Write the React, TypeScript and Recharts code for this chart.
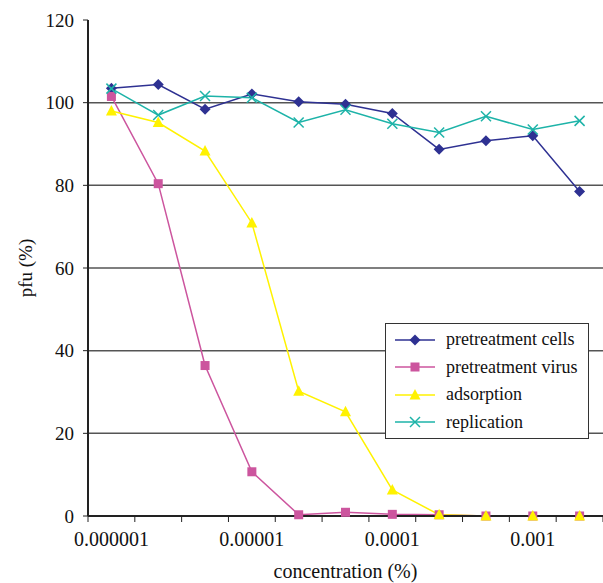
import React from "react";
import { LineChart, Line, XAxis, YAxis, ReferenceLine, Legend, Label } from "recharts";

// concentration categories, only every third one is labelled on the axis
const categories = ["0.000001", "", "", "0.00001", "", "", "0.0001", "", "", "0.001", ""];
const pretreatmentCells = [103.5, 104.4, 98.4, 102.1, 100.2, 99.6, 97.4, 88.7, 90.8, 92.0, 78.5];
const pretreatmentVirus = [101.5, 80.4, 36.4, 10.7, 0.3, 0.9, 0.4, 0.3, 0, 0, 0];
const adsorption = [98.0, 95.2, 88.3, 70.9, 30.2, 25.2, 6.3, 0.3, 0, 0, 0];
const replication = [103.4, 97.0, 101.6, 101.2, 95.2, 98.3, 94.9, 92.8, 96.7, 93.5, 95.6];
const yTicks = [0, 20, 40, 60, 80, 100, 120];
const gridValues = [20, 40, 60, 80, 100];

const W = 603;
const H = 583;
const Y_AXIS_W = 88;
const CAT_W = (W - Y_AXIS_W) / categories.length;
const FONT = "Liberation Serif, Times New Roman, Tinos, DejaVu Serif, serif";

type Shape = "diamond" | "square" | "triangle" | "cross";

const SERIES: { key: string; name: string; color: string; shape: Shape; values: number[] }[] = [
  { key: "cells", name: "pretreatment cells", color: "#2E3192", shape: "diamond", values: pretreatmentCells },
  { key: "virus", name: "pretreatment virus", color: "#CC559E", shape: "square", values: pretreatmentVirus },
  { key: "adsorption", name: "adsorption", color: "#FFF200", shape: "triangle", values: adsorption },
  { key: "replication", name: "replication", color: "#1DB3A8", shape: "cross", values: replication },
];

const data = categories.map((label, i) => {
  const row: Record<string, number | string> = { pos: i + 0.5, label };
  SERIES.forEach((s) => {
    row[s.key] = s.values[i];
  });
  return row;
});

const Marker = ({ shape, cx, cy, color }: { shape: Shape; cx: number; cy: number; color: string }) => {
  if (shape === "diamond")
    return <polygon points={`${cx},${cy - 5.5} ${cx + 5.5},${cy} ${cx},${cy + 5.5} ${cx - 5.5},${cy}`} fill={color} />;
  if (shape === "square") return <rect x={cx - 4.5} y={cy - 4.5} width={9} height={9} fill={color} />;
  if (shape === "triangle")
    return <polygon points={`${cx},${cy - 6} ${cx + 5.5},${cy + 4.5} ${cx - 5.5},${cy + 4.5}`} fill={color} />;
  return (
    <g stroke={color} strokeWidth={1.5}>
      <line x1={cx - 5} y1={cy - 5} x2={cx + 5} y2={cy + 5} />
      <line x1={cx - 5} y1={cy + 5} x2={cx + 5} y2={cy - 5} />
    </g>
  );
};

const renderXTick = (props: any) => {
  const { x, y, payload } = props;
  const label = categories[payload.value];
  if (!label) return <g />;
  return (
    <text x={x + CAT_W / 2} y={y + 22} textAnchor="middle" fontSize={20} fontFamily={FONT} fill="#111">
      {label}
    </text>
  );
};

const renderLegend = () => (
  <div
    style={{
      border: "1px solid #333",
      background: "#fff",
      padding: "2px 0",
      fontFamily: FONT,
      fontSize: 18,
      color: "#111",
    }}
  >
    {SERIES.map((s) => (
      <div key={s.key} style={{ display: "flex", alignItems: "center", height: 27.5 }}>
        <svg width={50} height={16} style={{ flex: "none" }}>
          <line x1={9} y1={8} x2={49} y2={8} stroke={s.color} strokeWidth={1.5} />
          <Marker shape={s.shape} cx={29} cy={8} color={s.color} />
        </svg>
        <span style={{ marginLeft: 10 }}>{s.name}</span>
      </div>
    ))}
  </div>
);

export default function App() {
  return (
    <div style={{ position: "absolute", left: 0, top: 0, width: W, height: H, background: "#fff" }}>
      <LineChart width={W} height={H} data={data} margin={{ top: 20, right: 0, bottom: 0, left: 0 }}>
        <XAxis
          type="number"
          dataKey="pos"
          domain={[0, categories.length]}
          ticks={categories.map((_, i) => i).concat(categories.length)}
          interval={0}
          tickSize={6}
          tickLine={{ stroke: "#222" }}
          axisLine={{ stroke: "#222", strokeWidth: 2 }}
          tick={renderXTick}
          height={67}
        >
          <Label
            value="concentration (%)"
            position="insideBottom"
            offset={5}
            style={{ fontSize: 20, fontFamily: FONT, fill: "#111" }}
          />
        </XAxis>
        <YAxis
          type="number"
          domain={[0, 120]}
          ticks={yTicks}
          interval={0}
          width={Y_AXIS_W}
          tickSize={5}
          tickMargin={9}
          tickLine={{ stroke: "#222" }}
          axisLine={{ stroke: "#222", strokeWidth: 2 }}
          tick={{ fontSize: 19, fontFamily: FONT, fill: "#111" }}
        >
          <Label
            content={(p: any) => {
              const vb = p.viewBox;
              const cy = vb.y + vb.height / 2;
              return (
                <text
                  x={25}
                  y={cy}
                  transform={`rotate(-90, 25, ${cy})`}
                  textAnchor="middle"
                  dy="0.35em"
                  fontSize={19}
                  fontFamily={FONT}
                  fill="#111"
                >
                  pfu (%)
                </text>
              );
            }}
          />
        </YAxis>
        {gridValues.map((v) => (
          <ReferenceLine key={v} y={v} stroke="#555" strokeWidth={1.5} />
        ))}
        {SERIES.map((s) => (
          <Line
            key={s.key}
            type="linear"
            dataKey={s.key}
            name={s.name}
            stroke={s.color}
            strokeWidth={1.5}
            activeDot={false}
            isAnimationActive={false}
            dot={(p: any) => <Marker key={`${s.key}-${p.index}`} shape={s.shape} cx={p.cx} cy={p.cy} color={s.color} />}
          />
        ))}
        <Legend
          layout="vertical"
          align="center"
          verticalAlign="middle"
          wrapperStyle={{ left: 385, top: 323, width: 204 }}
          content={renderLegend}
        />
      </LineChart>
    </div>
  );
}
